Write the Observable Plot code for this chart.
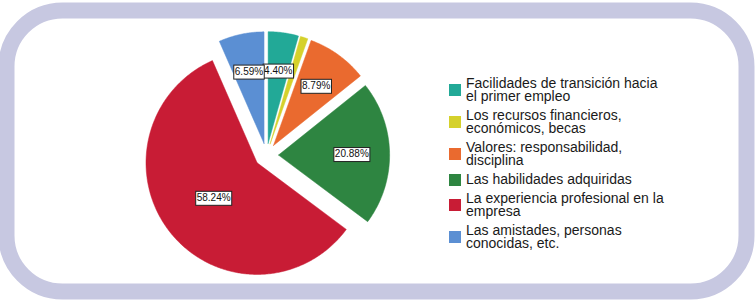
<!DOCTYPE html>
<html>
<head>
<meta charset="utf-8">
<script src="https://cdn.jsdelivr.net/npm/d3@7"></script>
<script src="https://cdn.jsdelivr.net/npm/@observablehq/plot@0.6"></script>
<style>
  html, body { margin: 0; padding: 0; background: #ffffff; }
  #wrap { position: relative; width: 755px; height: 300px; overflow: hidden; }
  #wrap svg.chart { position: absolute; left: 0; top: 0; }
  .lg-swatches { position: absolute; left: 449px; top: 77px; margin: 0 !important;
    font-family: "Liberation Sans", Arial, sans-serif; font-size: 14px; color: #1a1a1a; }
  .lg-swatch { padding-bottom: 6px !important; align-items: center; }
  .lg-swatch > svg { margin-right: 5px !important; }
  .lg-swatch > div, .lg-swatch-label { white-space: normal !important; width: 202px;
    line-height: 13px; overflow: visible !important; text-overflow: clip !important; }
</style>
</head>
<body>
<div id="wrap"></div>
<script>
// ---- data ----
const categories = [
  "Facilidades de transición hacia el primer empleo",
  "Los recursos financieros, económicos, becas",
  "Valores: responsabilidad, disciplina",
  "Las habilidades adquiridas",
  "La experiencia profesional en la empresa",
  "Las amistades, personas conocidas, etc."
];
const percents = [4.40, 1.10, 8.79, 20.88, 58.24, 6.59];
const colors = ["#22a997", "#d5d12c", "#ea6a2f", "#2e8541", "#c81c35", "#5b8fd3"];

// ---- layout (pie radius = 1 unit) ----
const EXPLODE = 0.108;
const xDomain = [-2.34, 4.32];
const yDomain = [-1.22, 1.297];

const arcs = d3.pie().sort(null).value(d => d)(percents);
const slicePts = [];
const labels = [];
arcs.forEach((a, i) => {
  const mid = (a.startAngle + a.endAngle) / 2;
  const ox = EXPLODE * Math.sin(mid), oy = EXPLODE * Math.cos(mid);
  const cat = categories[i];
  slicePts.push({cat, x: ox, y: oy});
  const n = Math.max(4, Math.ceil((a.endAngle - a.startAngle) / 0.01));
  for (let k = 0; k <= n; k++) {
    const t = a.startAngle + (a.endAngle - a.startAngle) * k / n;
    slicePts.push({cat, x: ox + Math.sin(t), y: oy + Math.cos(t)});
  }
  slicePts.push({cat, x: ox, y: oy});
  if (percents[i] >= 2) {
    const lr = percents[i] > 50 ? 0.5 : 0.66;
    labels.push({
      x: ox + lr * Math.sin(mid),
      y: oy + lr * Math.cos(mid),
      text: percents[i].toFixed(2) + "%"
    });
  }
});

const chart = Plot.plot({
  width: 755,
  height: 300,
  marginLeft: 6,
  marginRight: 9,
  marginTop: 10,
  marginBottom: 9,
  x: {domain: xDomain, axis: null},
  y: {domain: yDomain, axis: null},
  color: {domain: categories, range: colors},
  style: {background: "white", fontFamily: "'Liberation Sans', Arial, sans-serif"},
  marks: [
    Plot.frame({rx: 56, ry: 56, stroke: "#c7c8e1", strokeWidth: 16, fill: "white"}),
    Plot.line(slicePts, {x: "x", y: "y", z: "cat", fill: "cat", stroke: "cat", strokeWidth: 0.5}),
    Plot.text(labels, {x: "x", y: "y", text: "text", fontSize: 10, fill: "#111", className: "pielabel"})
  ]
});
chart.classList.add("chart");
document.getElementById("wrap").appendChild(chart);

// white boxes with dark border behind the percentage labels
chart.querySelectorAll("g.pielabel text, g[aria-label='text'] text").forEach(t => {
  const bb = t.getBBox();
  const r = document.createElementNS("http://www.w3.org/2000/svg", "rect");
  r.setAttribute("x", bb.x - 1);
  r.setAttribute("y", bb.y - 0.5);
  r.setAttribute("width", bb.width + 2);
  r.setAttribute("height", bb.height + 3);
  r.setAttribute("fill", "white");
  r.setAttribute("stroke", "#222");
  r.setAttribute("stroke-width", 1);
  const tr = t.getAttribute("transform");
  if (tr) r.setAttribute("transform", tr);
  t.parentNode.insertBefore(r, t);
});

const lg = Plot.legend({
  color: {domain: categories, range: colors, legend: "swatches"},
  legend: "swatches",
  columns: 1,
  swatchSize: 12,
  className: "lg"
});
document.getElementById("wrap").appendChild(lg);
</script>
</body>
</html>
